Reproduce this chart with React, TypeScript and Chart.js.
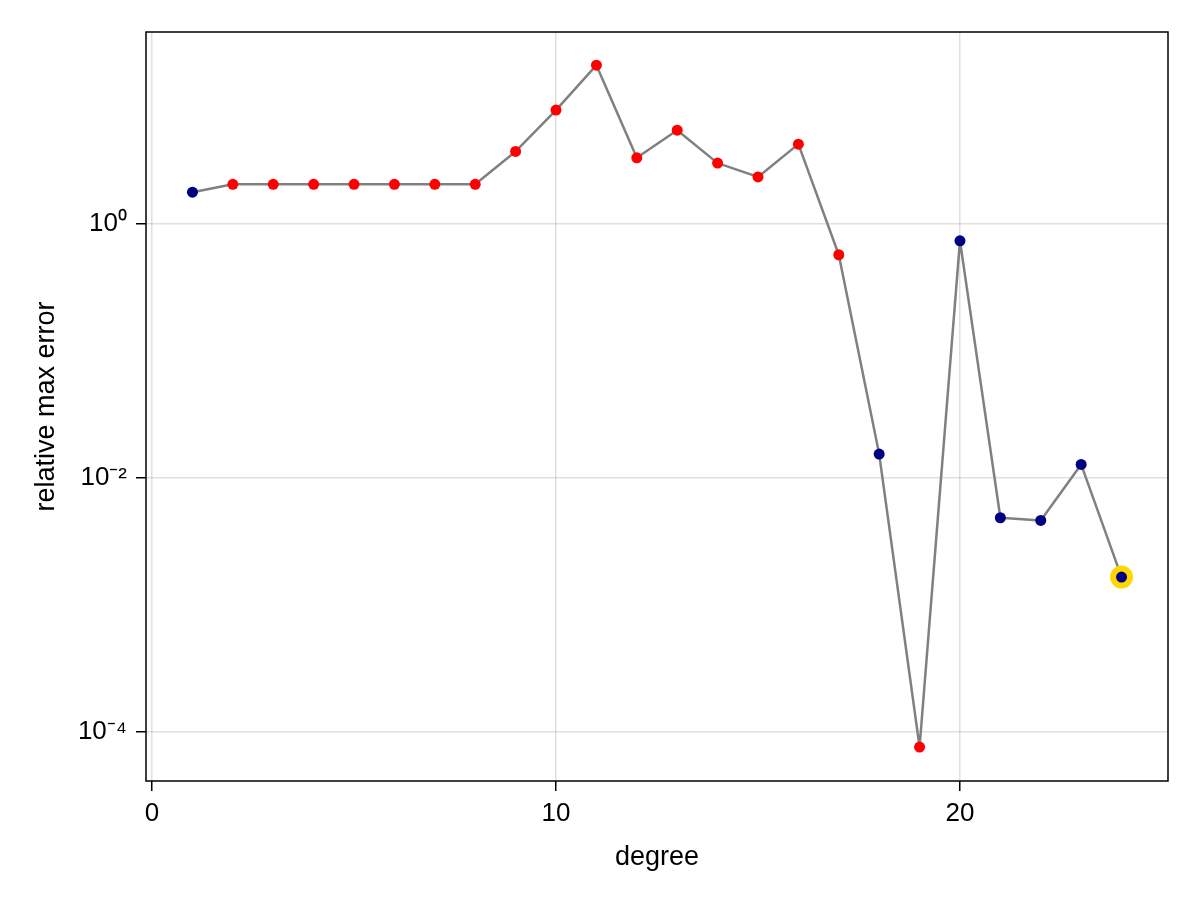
import React, { useEffect, useRef } from "react";
import { Chart, registerables } from "chart.js";

Chart.register(...registerables);

// ---- data ----
const degrees = [1, 2, 3, 4, 5, 6, 7, 8, 9, 10, 11, 12, 13, 14, 15, 16, 17, 18, 19, 20, 21, 22, 23, 24];
const relMaxError = [
  1.76, 2.03, 2.03, 2.03, 2.03, 2.03, 2.03, 2.03, 3.68, 7.78, 17.56, 3.28,
  5.41, 2.98, 2.32, 4.2, 0.567, 0.01535, 7.64e-5, 0.73, 0.00485, 0.00462, 0.01274, 0.001656,
];
const isImprovement = [
  true, false, false, false, false, false, false, false, false, false, false, false,
  false, false, false, false, false, true, false, true, true, true, true, true,
];
const selectedDegree = 24;

const xTicks = [0, 10, 20];
const yTicks = [1e-4, 1e-2, 1];
const yTickLabels = ["10\u207B\u2074", "10\u207B\u00B2", "10\u2070"];
const xLimits = [-0.15, 25.15];
const yLimits = [Math.pow(10, -4.384), Math.pow(10, 1.505)];

const FONT = "'Liberation Sans', Arial, Helvetica, sans-serif";
const RED = "#ff0000";
const NAVY = "#000080";
const GOLD = "#ffd700";

const framePlugin = {
  id: "frame",
  afterDraw(chart: any) {
    const { ctx, chartArea } = chart;
    const { left, top, right, bottom } = chartArea;
    ctx.save();
    ctx.strokeStyle = "#000";
    ctx.lineWidth = 1.5;
    ctx.strokeRect(left, top, right - left, bottom - top);
    ctx.restore();
  },
};

export default function App() {
  const ref = useRef<HTMLCanvasElement | null>(null);

  useEffect(() => {
    if (!ref.current) return;
    const points = degrees.map((d, i) => ({ x: d, y: relMaxError[i] }));
    const colors = isImprovement.map((b) => (b ? NAVY : RED));
    const radii = degrees.map((d) => (d === selectedDegree ? 8.5 : 5.5));
    const borderWidths = degrees.map((d) => (d === selectedDegree ? 6 : 0));
    const borderColors = degrees.map((d, i) => (d === selectedDegree ? GOLD : colors[i]));

    const chart = new Chart(ref.current, {
      type: "line",
      data: {
        datasets: [
          {
            data: points,
            borderColor: "#808080",
            borderWidth: 2.5,
            borderJoinStyle: "round",
            borderCapStyle: "round",
            pointBackgroundColor: colors,
            pointBorderColor: borderColors,
            pointBorderWidth: borderWidths,
            pointRadius: radii,
            tension: 0,
            fill: false,
          },
        ],
      },
      options: {
        responsive: false,
        animation: false,
        devicePixelRatio: 1,
        layout: { padding: { left: 0, right: 32, top: 32, bottom: 0 } },
        plugins: { legend: { display: false }, tooltip: { enabled: false } },
        scales: {
          x: {
            type: "linear",
            min: xLimits[0],
            max: xLimits[1],
            afterBuildTicks: (scale: any) => {
              scale.ticks = xTicks.map((v) => ({ value: v }));
            },
            afterFit: (scale: any) => {
              scale.height = 119;
            },
            ticks: {
              autoSkip: false,
              maxRotation: 0,
              padding: 7,
              color: "#000",
              font: { family: FONT, size: 26 },
              callback: (v: any) => String(v),
            },
            grid: {
              color: "rgba(0,0,0,0.12)",
              lineWidth: 1.5,
              tickColor: "#000",
              tickWidth: 1.5,
              tickLength: 10,
              drawTicks: true,
            },
            border: { display: false },
            title: {
              display: true,
              text: "degree",
              color: "#000",
              font: { family: FONT, size: 27 },
              padding: { top: 0, bottom: 26 },
            },
          },
          y: {
            type: "logarithmic",
            min: yLimits[0],
            max: yLimits[1],
            afterBuildTicks: (scale: any) => {
              scale.ticks = yTicks.map((v) => ({ value: v }));
            },
            afterFit: (scale: any) => {
              scale.width = 146;
            },
            ticks: {
              autoSkip: false,
              padding: 9,
              color: "#000",
              font: { family: FONT, size: 26 },
              callback: (v: any) => {
                const idx = yTicks.findIndex((t) => Math.abs(Math.log10(t) - Math.log10(Number(v))) < 1e-6);
                return idx >= 0 ? yTickLabels[idx] : "";
              },
            },
            grid: {
              color: "rgba(0,0,0,0.12)",
              lineWidth: 1.5,
              tickColor: "#000",
              tickWidth: 1.5,
              tickLength: 10,
              drawTicks: true,
            },
            border: { display: false },
            title: {
              display: true,
              text: "relative max error",
              color: "#000",
              font: { family: FONT, size: 27 },
              padding: { top: 30, bottom: 0 },
            },
          },
        },
      },
      plugins: [framePlugin],
    } as any);

    return () => chart.destroy();
  }, []);

  return (
    <div style={{ position: "absolute", left: 0, top: 0, width: 1200, height: 900, background: "#fff" }}>
      <canvas ref={ref} width={1200} height={900} style={{ display: "block" }} />
    </div>
  );
}
